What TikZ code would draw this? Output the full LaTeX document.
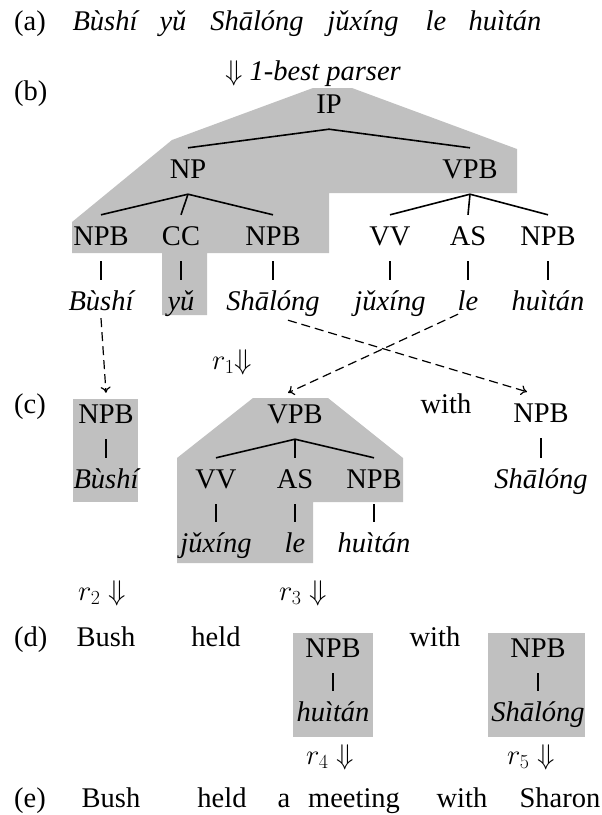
\RequirePackage{fix-cm}
\documentclass[tikz,border=0pt]{standalone}
\usepackage{fontspec}
\setmainfont{Liberation Serif}
\usepackage{tikz}
\usetikzlibrary{arrows.meta}
\definecolor{treegray}{RGB}{192,192,192}
\newcommand{\rstep}[1]{$r_{#1}\Downarrow$}

\begin{document}
\begin{tikzpicture}[
      x=1pt, y=-1pt,
      every node/.style={font=\fontsize{28.5}{34}\selectfont, anchor=base,
        inner xsep=2pt, inner ysep=10pt, text height=20pt, text depth=6pt},
      word/.style={font=\fontsize{28.5}{34}\selectfont\itshape},
      branch/.style={line width=1.6pt},
      mapping/.style={line width=1.2pt, dash pattern=on 9pt off 5pt,
        -{To[length=6pt,width=10pt]}}
    ]
    \useasboundingbox (0,0) rectangle (602,815);

    % Grey pieces first, so the text sits on top
    % - the big piece of the 1-best tree, with the yu column hanging down
    \fill[treegray] (313,88) -- (352,88) -- (517,149) -- (517,193) -- (329,193)
      -- (329,253) -- (207,253) -- (207,315) -- (162,315) -- (162,253)
      -- (72,253) -- (72,222) -- (172,140) -- cycle;
    % - the pieces left in (c) and (d)
    \fill[treegray] (73,399) rectangle (138,502);
    \fill[treegray] (253,398) -- (328,398) -- (403,458) -- (403,502) -- (313,502)
      -- (313,563) -- (177,563) -- (177,458) -- cycle;
    \fill[treegray] (293,633) rectangle (373,737);
    \fill[treegray] (488,633) rectangle (585,737);

    % (a) the input
    \node[anchor=base west] (lab-a) at (12,30) {(a)};
    \node[word] (a-bushi) at (105,30) {Bùshí};
    \node[word] (a-yu) at (173,30) {yǔ};
    \node[word] (a-shalong) at (257,30) {Shālóng};
    \node[word] (a-juxing) at (363,30) {jǔxíng};
    \node[word] (a-le) at (436,30) {le};
    \node[word] (a-huitan) at (505,30) {huìtán};

    \node (parse) at (313,80) {$\Downarrow$ \textit{1-best parser}};

    % (b) the 1-best tree
    \node[anchor=base west] (lab-b) at (12,100) {(b)};
    \node (ip) at (329,113) {IP};
    \node (np) at (188,178) {NP};
    \node (vpb) at (470,178) {VPB};
    \node (b-npb1) at (101,245) {NPB};
    \node (b-cc) at (181,245) {CC};
    \node (b-npb2) at (273,245) {NPB};
    \node (b-vv) at (390,245) {VV};
    \node (b-as) at (468,245) {AS};
    \node (b-npb3) at (548,245) {NPB};
    \node[word] (b-bushi) at (101,310) {Bùshí};
    \node[word] (b-yu) at (181,310) {yǔ};
    \node[word] (b-shalong) at (273,310) {Shālóng};
    \node[word] (b-juxing) at (390,310) {jǔxíng};
    \node[word] (b-le) at (468,310) {le};
    \node[word] (b-huitan) at (548,310) {huìtán};

    \draw[branch] (ip.south) -- (np.north);
    \draw[branch] (ip.south) -- (vpb.north);
    \draw[branch] (np.south) -- (b-npb1.north);
    \draw[branch] (np.south) -- (b-cc.north);
    \draw[branch] (np.south) -- (b-npb2.north);
    \draw[branch] (vpb.south) -- (b-vv.north);
    \draw[branch] (vpb.south) -- (b-as.north);
    \draw[branch] (vpb.south) -- (b-npb3.north);
    \draw[branch] (b-npb1.south) -- (b-bushi.north);
    \draw[branch] (b-cc.south) -- (b-yu.north);
    \draw[branch] (b-npb2.south) -- (b-shalong.north);
    \draw[branch] (b-vv.south) -- (b-juxing.north);
    \draw[branch] (b-as.south) -- (b-le.north);
    \draw[branch] (b-npb3.south) -- (b-huitan.north);

    \node (r1) at (232,369) {$r_1{\Downarrow}$};

    % (c) after r1
    \node[anchor=base west] (lab-c) at (12,413) {(c)};
    \node (c-npb1) at (106,423) {NPB};
    \node[word] (c-bushi) at (106,488) {Bùshí};
    \node (c-vpb) at (295,423) {VPB};
    \node (c-vv) at (216,488) {VV};
    \node (c-as) at (295,488) {AS};
    \node (c-npb2) at (374,488) {NPB};
    \node[word] (c-juxing) at (216,552) {jǔxíng};
    \node[word] (c-le) at (295,552) {le};
    \node[word] (c-huitan) at (374,552) {huìtán};
    \node (c-with) at (446,413) {with};
    \node (c-npb3) at (541,422) {NPB};
    \node[word] (c-shalong) at (541,488) {Shālóng};

    \draw[branch] (c-npb1.south) -- (c-bushi.north);
    \draw[branch] (c-vpb.south) -- (c-vv.north);
    \draw[branch] (c-vpb.south) -- (c-as.north);
    \draw[branch] (c-vpb.south) -- (c-npb2.north);
    \draw[branch] (c-vv.south) -- (c-juxing.north);
    \draw[branch] (c-as.south) -- (c-le.north);
    \draw[branch] (c-npb2.south) -- (c-huitan.north);
    \draw[branch] (c-npb3.south) -- (c-shalong.north);

    % where the pieces of (b) go
    \draw[mapping] ([yshift=8pt]b-bushi.south) -- (c-npb1.north);
    \draw[mapping] ([xshift=-10pt,yshift=12pt]b-le.south) -- ([xshift=-7pt]c-vpb.north);
    \draw[mapping] ([xshift=15pt,yshift=6pt]b-shalong.south) -- ([xshift=-14pt]c-npb3.north);

    \node (r2) at (102,600) {\rstep{2}};
    \node (r3) at (303,600) {\rstep{3}};

    % (d) after r2 and r3
    \node[anchor=base west] (lab-d) at (12,646) {(d)};
    \node (d-bush) at (106,646) {Bush};
    \node (d-held) at (216,646) {held};
    \node (d-npb1) at (333,657) {NPB};
    \node[word] (d-huitan) at (333,721) {huìtán};
    \node (d-with) at (435,646) {with};
    \node (d-npb2) at (538,657) {NPB};
    \node[word] (d-shalong) at (538,721) {Shālóng};

    \draw[branch] (d-npb1.south) -- (d-huitan.north);
    \draw[branch] (d-npb2.south) -- (d-shalong.north);

    \node (r4) at (330,764) {\rstep{4}};
    \node (r5) at (531,764) {\rstep{5}};

    % (e) the output
    \node[anchor=base west] (lab-e) at (12,807) {(e)};
    \node (e-bush) at (111,807) {Bush};
    \node (e-held) at (222,807) {held};
    \node (e-a) at (284,807) {a};
    \node (e-meeting) at (354,807) {meeting};
    \node (e-with) at (462,807) {with};
    \node (e-sharon) at (560,807) {Sharon};
\end{tikzpicture}
\end{document}
